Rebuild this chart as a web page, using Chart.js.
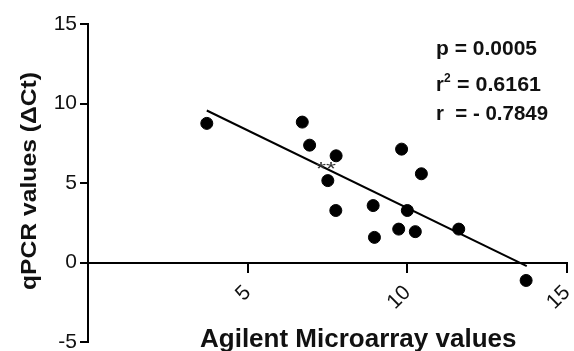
<!DOCTYPE html>
<html>
<head>
<meta charset="utf-8">
<script src="https://cdn.jsdelivr.net/npm/chart.js@4/dist/chart.umd.min.js"></script>
<style>
  html, body { margin: 0; padding: 0; background: #fff; }
</style>
</head>
<body>
<canvas id="chart" width="574" height="351"></canvas>
<script>
// values
var arrayValues = [3.72, 6.71, 6.94, 7.77, 7.51, 7.76, 8.93, 8.97, 9.73, 9.82, 10.0, 10.25, 10.44, 11.61, 13.72];
var qpcrValues  = [8.75, 8.83, 7.38, 6.71, 5.15, 3.27, 3.58, 1.58, 2.10, 7.13, 3.27, 1.94, 5.58, 2.10, -1.13];
var fitX = [3.72, 13.74];
var fitY = [9.56, -0.23];
var xTicks = [5, 10, 15];
var yTicks = [-5, 0, 5, 10, 15];

var FONT = "'Liberation Sans', Arial, sans-serif";

var points = arrayValues.map(function (x, i) { return {x: x, y: qpcrValues[i]}; });
var fitLine = fitX.map(function (x, i) { return {x: x, y: fitY[i]}; });

// draw text stretched along its length to a given width
function wideText(ctx, txt, x, y, width) {
    var w = ctx.measureText(txt).width;
    ctx.save();
    ctx.translate(x, y);
    ctx.scale(width / w, 1);
    ctx.fillText(txt, 0, 0);
    ctx.restore();
}

var textPlugin = {
    id: 'texts',
    afterDraw: function (chart) {
        var ctx = chart.ctx;
        ctx.save();
        ctx.fillStyle = '#111';
        ctx.textBaseline = 'alphabetic';
        // y axis title
        ctx.font = 'bold 22px ' + FONT;
        ctx.textAlign = 'left';
        ctx.save();
        ctx.translate(36, 290);
        ctx.rotate(-Math.PI / 2);
        wideText(ctx, 'qPCR values (\u0394Ct)', 0, 0, 218);
        ctx.restore();
        // x axis title
        ctx.font = 'bold 26px ' + FONT;
        ctx.fillText('Agilent Microarray values', 200, 347);
        // stats
        ctx.font = 'bold 20px ' + FONT;
        wideText(ctx, 'p = 0.0005', 436, 55, 101);
        ctx.fillText('r', 436, 91);
        ctx.font = 'bold 12px ' + FONT;
        ctx.fillText('2', 444, 82);
        ctx.font = 'bold 20px ' + FONT;
        wideText(ctx, '= 0.6161', 457, 91, 84);
        wideText(ctx, 'r  = - 0.7849', 436, 120, 112);
        // significance mark
        ctx.font = '19px ' + FONT;
        ctx.fillStyle = '#333';
        wideText(ctx, '**', 316, 175, 20);
        ctx.restore();
    }
};

var chart = new Chart(document.getElementById('chart'), {
    type: 'scatter',
    data: {
        datasets: [
            {
                data: points,
                backgroundColor: '#000',
                borderColor: '#000',
                pointRadius: 6,
                pointHoverRadius: 6
            }, {
                type: 'line',
                data: fitLine,
                borderColor: '#000',
                borderWidth: 2,
                pointRadius: 0,
                fill: false
            }
        ]
    },
    options: {
        responsive: false,
        animation: false,
        devicePixelRatio: 1,
        layout: {padding: {left: 0, top: 24, right: 7, bottom: 9}},
        plugins: {legend: {display: false}, tooltip: {enabled: false}},
        scales: {
            x: {
                type: 'linear',
                position: {y: 0},
                min: 0,
                max: 15,
                afterFit: function (s) {
                    s.height = 0;
                    s.paddingLeft = 0; s.paddingRight = 0;
                },
                afterBuildTicks: function (s) { s.ticks = [0].concat(xTicks).map(function (v) { return {value: v}; }); },
                ticks: {
                    callback: function (v) { return v === 0 ? '' : v; },
                    minRotation: 45,
                    maxRotation: 45,
                    color: '#111',
                    padding: 9,
                    font: {family: FONT, size: 21}
                },
                grid: {
                    drawOnChartArea: false,
                    tickLength: 9,
                    lineWidth: 2,
                    color: function (c) { return c.tick && c.tick.value === 0 ? 'rgba(0,0,0,0)' : '#000'; }
                },
                border: {color: '#000', width: 2}
            },
            y: {
                min: -5,
                max: 15,
                afterFit: function (s) {
                    s.width = 88;
                    s.paddingTop = 0; s.paddingBottom = 0;
                },
                afterBuildTicks: function (s) { s.ticks = yTicks.map(function (v) { return {value: v}; }); },
                ticks: {
                    color: '#111',
                    padding: 3,
                    font: {family: FONT, size: 21}
                },
                grid: {
                    drawOnChartArea: false,
                    tickLength: 8,
                    lineWidth: 2,
                    color: '#000'
                },
                border: {color: '#000', width: 2}
            }
        }
    },
    plugins: [textPlugin]
});
</script>
</body>
</html>
